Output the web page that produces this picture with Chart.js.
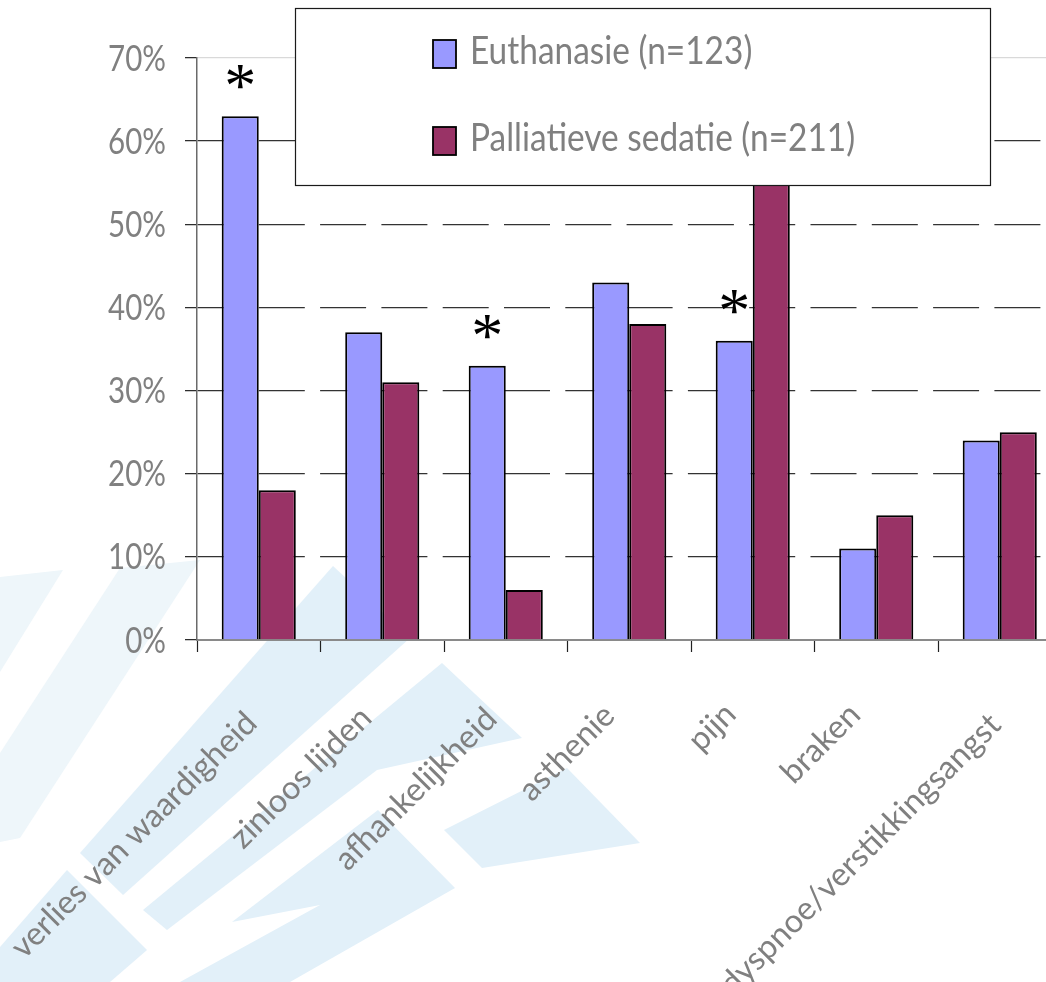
<!DOCTYPE html>
<html>
<head>
<meta charset="utf-8">
<script src="https://cdn.jsdelivr.net/npm/chart.js@4.4.0/dist/chart.umd.min.js"></script>
<style>
  html, body { margin: 0; padding: 0; background: #fff; overflow: hidden; }
  #wrap { position: relative; width: 1100px; height: 982px; }
</style>
</head>
<body>
<div id="wrap"><canvas id="redenenChart" width="1100" height="982"></canvas></div>
<script>
// Redenen voor euthanasie vs. palliatieve sedatie (% van de patiënten)
const categories = ['verlies van waardigheid', 'zinloos lijden', 'afhankelijkheid', 'asthenie', 'pijn', 'braken', 'dyspnoe/verstikkingsangst'];
const euthanasie = [63, 37, 33, 43, 36, 11, 24];
const sedatie = [18, 31, 6, 38, 59, 15, 25];
const significant = [true, false, true, false, true, false, false];
const seriesLabels = ['Euthanasie (n=123)', 'Palliatieve sedatie (n=211)'];
const yTicks = [0, 10, 20, 30, 40, 50, 60, 70];

const grey = '#808080';

// light blue slide decoration behind the plot
const backdrop = {
  id: 'backdrop',
  beforeDraw(chart) {
    const ctx = chart.ctx;
    const pale = '#eef6fa', blue = '#e2f0f9';
    const shapes = [
      [pale, [[0, 577], [63, 570], [0, 672]]],
      [pale, [[120, 568], [200, 560], [20, 838], [0, 842], [0, 753]]],
      [blue, [[333, 566], [410, 638], [123, 895], [80, 853]]],
      [blue, [[442, 663], [522, 738], [377, 770], [167, 930], [143, 910]]],
      [blue, [[378, 810], [455, 888], [290, 982], [180, 982], [320, 905], [232, 922]]],
      [blue, [[444, 830], [567, 768], [640, 843], [482, 868]]],
      [blue, [[67, 870], [147, 950], [110, 982], [0, 982], [0, 947]]]
    ];
    ctx.save();
    ctx.fillStyle = '#fff';
    ctx.fillRect(0, 0, chart.width, chart.height);
    shapes.forEach(([c, pts]) => {
      ctx.fillStyle = c;
      ctx.beginPath();
      pts.forEach(([x, y], i) => i ? ctx.lineTo(x, y) : ctx.moveTo(x, y));
      ctx.closePath();
      ctx.fill();
    });
    ctx.restore();
  }
};

// y tick labels in a slightly condensed face
const yLabels = {
  id: 'yLabels',
  afterDraw(chart) {
    const ctx = chart.ctx, s = chart.scales.y;
    const sx = 0.82;
    ctx.save();
    ctx.fillStyle = grey;
    ctx.font = '36px Lato';
    ctx.textAlign = 'right';
    ctx.textBaseline = 'middle';
    ctx.scale(sx, 1);
    s.ticks.forEach(t => {
      ctx.fillText(t.label, 166 / sx, s.getPixelForValue(t.value) + 1);
    });
    ctx.restore();
  }
};

// slanted category labels; longer ones sit a bit further out
const xLabels = {
  id: 'xLabels',
  afterDraw(chart) {
    const ctx = chart.ctx, s = chart.scales.x;
    ctx.save();
    ctx.fillStyle = grey;
    ctx.font = '32.5px Lato';
    ctx.textAlign = 'right';
    ctx.textBaseline = 'middle';
    chart.data.labels.forEach((lab, i) => {
      const w = ctx.measureText(lab).width;
      const extra = Math.max(w - 80, 0);
      const x = s.getPixelForTick(i) - 22.4 + 0.06 * extra;
      const y = s.top + 68.8 + 0.035 * extra;
      ctx.save();
      ctx.translate(x, y);
      ctx.rotate(-Math.PI / 4);
      ctx.fillText(lab, 0, 0);
      ctx.restore();
    });
    ctx.restore();
  }
};

// asterisks above the significant euthanasie bars
const stars = {
  id: 'stars',
  afterDatasetsDraw(chart) {
    const ctx = chart.ctx;
    const bars = chart.getDatasetMeta(0).data;
    ctx.save();
    ctx.fillStyle = '#000';
    ctx.font = "64px 'Liberation Serif', serif";
    ctx.textAlign = 'center';
    ctx.textBaseline = 'alphabetic';
    significant.forEach((s, i) => {
      if (!s) return;
      ctx.fillText('*', bars[i].x, bars[i].y - 9);
    });
    ctx.restore();
  }
};

// boxed legend drawn over the chart
const boxLegend = {
  id: 'boxLegend',
  afterDraw(chart) {
    const ctx = chart.ctx;
    ctx.save();
    ctx.fillStyle = '#fff';
    ctx.fillRect(296, 8, 694, 177);
    ctx.strokeStyle = '#1a1a1a';
    ctx.lineWidth = 1.2;
    ctx.strokeRect(295.5, 8.5, 695, 177);
    chart.data.datasets.forEach((ds, i) => {
      const top = 40 + i * 87;
      ctx.fillStyle = ds.backgroundColor;
      ctx.fillRect(433, top, 23, 28);
      ctx.strokeStyle = '#000';
      ctx.lineWidth = 1.8;
      ctx.strokeRect(433, top, 23, 28);
      ctx.save();
      ctx.fillStyle = grey;
      ctx.font = '38px Lato';
      ctx.textAlign = 'left';
      ctx.textBaseline = 'alphabetic';
      ctx.scale(0.88, 1);
      ctx.fillText(ds.label, 470 / 0.88, top + 24);
      ctx.restore();
    });
    ctx.restore();
  }
};

new Chart(document.getElementById('redenenChart'), {
  type: 'bar',
  data: {
    labels: categories,
    datasets: [
      { label: seriesLabels[0], data: euthanasie, backgroundColor: '#9999ff', borderColor: '#000', borderWidth: 2 },
      { label: seriesLabels[1], data: sedatie, backgroundColor: '#993366', borderColor: '#000', borderWidth: 2 }
    ]
  },
  options: {
    responsive: false,
    animation: false,
    categoryPercentage: 0.6,
    barPercentage: 1.0,
    layout: { padding: { top: 58, right: 38.5, left: 0, bottom: 0 } },
    plugins: { legend: { display: false }, tooltip: { enabled: false } },
    scales: {
      x: {
        grid: { drawOnChartArea: false, tickLength: 12, tickColor: '#222', tickWidth: 1.2 },
        border: { color: '#8a8a8a', width: 2 },
        ticks: { display: false, autoSkip: false },
        afterFit: s => { s.height = 342; s.paddingLeft = 0; s.paddingRight = 0; }
      },
      y: {
        min: 0, max: 70,
        afterBuildTicks: s => { s.ticks = yTicks.map(v => ({ value: v })); },
        grid: {
          color: c => c.tick.value === 0 ? 'rgba(0,0,0,0)' : (c.tick.value === 70 ? '#d9d9d9' : '#333'),
          lineWidth: 1.3, tickLength: 12, tickColor: '#222', tickWidth: 1.2
        },
        border: {
          color: '#6a6a6a', width: 1.5,
          dash: c => c.tick && c.tick.value === 70 ? [] : [46, 15.3]
        },
        ticks: { display: false, callback: v => v + '%' },
        afterFit: s => { s.width = 197; }
      }
    }
  },
  plugins: [backdrop, stars, yLabels, xLabels, boxLegend]
});
</script>
</body>
</html>
